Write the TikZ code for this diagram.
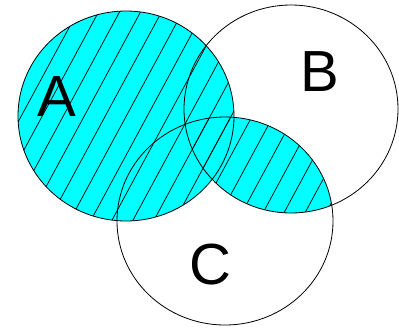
\documentclass[tikz,border=0pt]{standalone}
\usepackage{fontspec}
\setmainfont{Liberation Sans}
\definecolor{setfill}{RGB}{0,255,255}

\begin{document}
\begin{tikzpicture}[x=1pt,y=-1pt,
  setline/.style={draw=black,line width=0.8pt},
  hatchline/.style={draw=black,line width=0.7pt},
  setlabel/.style={font=\fontsize{58}{58}\selectfont,inner sep=0pt}]
\useasboundingbox (0,0) rectangle (399,333);
\coordinate (ca) at (126,116);
\coordinate (cb) at (291,109);
\coordinate (cc) at (225,221);
% shaded region: A and (B cap C)
\fill[setfill] (ca) ellipse [x radius=108,y radius=105];
\begin{scope}
\clip (cb) ellipse [x radius=107,y radius=104];
\fill[setfill] (cc) ellipse [x radius=108,y radius=104];
\end{scope}
% hatching
\begin{scope}
\clip (ca) ellipse [x radius=108,y radius=105];
\foreach \c in {0,21,...,600} \draw[hatchline] (\c,0) -- (\c-180,333);
\end{scope}
\begin{scope}
\clip (cb) ellipse [x radius=107,y radius=104];
\clip (cc) ellipse [x radius=108,y radius=104];
\foreach \c in {0,21,...,600} \draw[hatchline] (\c,0) -- (\c-180,333);
\end{scope}
% outlines
\draw[setline] (ca) ellipse [x radius=108,y radius=105];
\draw[setline] (cb) ellipse [x radius=107,y radius=104];
\draw[setline] (cc) ellipse [x radius=108,y radius=104];
\node[setlabel] (la) at (57,97) {A};
\node[setlabel] (lb) at (320,72) {B};
\node[setlabel] (lc) at (210,265) {C};
\end{tikzpicture}
\end{document}
